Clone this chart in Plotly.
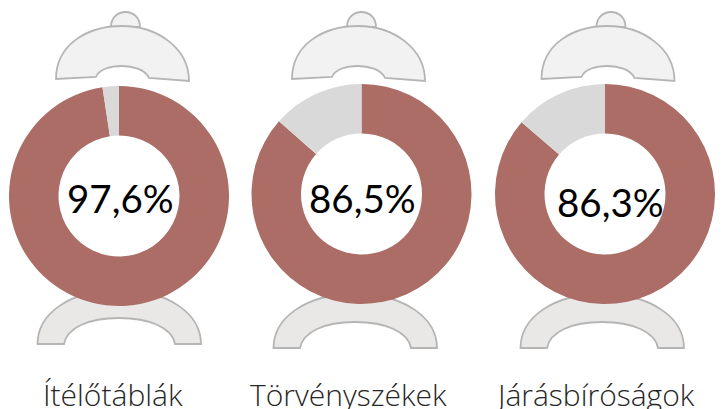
import plotly.graph_objects as go

W, H = 722, 409
categories = ["Ítélőtáblák", "Törvényszékek", "Járásbíróságok"]
values = [97.6, 86.5, 86.3]
labels = ["97,6%", "86,5%", "86,3%"]
rest = [2.4, 13.5, 13.7]
centers = [(119, 196), (361.5, 194), (605, 194)]
radius = 110
label_pos = [(120, 198), (362, 198), (610, 202)]
cat_pos = [(112.5, 394), (348.5, 394), (595, 394)]
lid_dx = [0, 236, 485.5]
base_dx = [0, 236, 483]
base_dy = [0, 4, 4]

fig = go.Figure()
for i, c in enumerate(categories):
    cx, cy = centers[i]
    fig.add_trace(go.Pie(
        values=[values[i], rest[i]], labels=[c, "egyéb"], hole=0.55, sort=False,
        direction="clockwise", rotation=0, textinfo="none", showlegend=False,
        marker=dict(colors=["#ab6d66", "#d9d9d9"], line=dict(width=0)),
        domain=dict(x=[(cx - radius) / W, (cx + radius) / W],
                    y=[1 - (cy + radius) / H, 1 - (cy - radius) / H]),
    ))

LINE = "#b5b5b5"
LW = 1.8
shapes = []
for i in range(3):
    d = lid_dx[i]
    knob = (f"M {111+d} 27 C {111+d} 7, {140+d} 7, {140+d} 27 Z")
    lid = (f"M {56+d} 79 C {56+d} 44, {88+d} 26, {122+d} 26 "
           f"C {157+d} 26, {189+d} 48, {189+d} 81 L {149+d} 78 "
           f"C {145+d} 69, {132+d} 66, {122+d} 66 C {111+d} 66, {99+d} 69, {96+d} 77 Z")
    shapes.append(dict(type="path", path=knob, fillcolor="#f2f2f2", line=dict(color=LINE, width=LW),
                       xref="x", yref="y", layer="below"))
    shapes.append(dict(type="path", path=lid, fillcolor="#f2f2f2", line=dict(color=LINE, width=LW),
                       xref="x", yref="y", layer="below"))
    e, f = base_dx[i], base_dy[i]
    base = (f"M {37.5+e} {344+f} C {37.5+e} {315+f}, {68+e} {290+f}, {119+e} {290+f} "
            f"C {170+e} {290+f}, {201+e} {315+f}, {201+e} {344+f} L {175+e} {344+f} "
            f"C {172+e} {328+f}, {150+e} {318+f}, {119+e} {318+f} C {88+e} {318+f}, {67+e} {328+f}, {64+e} {344+f} Z")
    shapes.append(dict(type="path", path=base, fillcolor="#e9e8e6", line=dict(color=LINE, width=LW),
                       xref="x", yref="y", layer="below"))

ann = []
for i in range(3):
    ann.append(dict(x=label_pos[i][0], y=label_pos[i][1], text=labels[i], showarrow=False,
                    xref="x", yref="y", font=dict(family="Lato, Open Sans", size=38.5, color="#000000")))
    ann.append(dict(x=cat_pos[i][0], y=cat_pos[i][1], text=categories[i], showarrow=False,
                    xref="x", yref="y", font=dict(family="Open Sans", size=30, weight=300, color="#262626")))

fig.update_layout(
    width=W, height=H, margin=dict(l=0, r=0, t=0, b=0), paper_bgcolor="white", plot_bgcolor="rgba(0,0,0,0)",
    xaxis=dict(range=[0, W], visible=False, fixedrange=True),
    yaxis=dict(range=[H, 0], visible=False, fixedrange=True),
    shapes=shapes, annotations=ann,
)
fig.write_html("out.html", config=dict(displayModeBar=False),
               post_script="document.body.style.margin='0';document.body.style.overflow='hidden';")
